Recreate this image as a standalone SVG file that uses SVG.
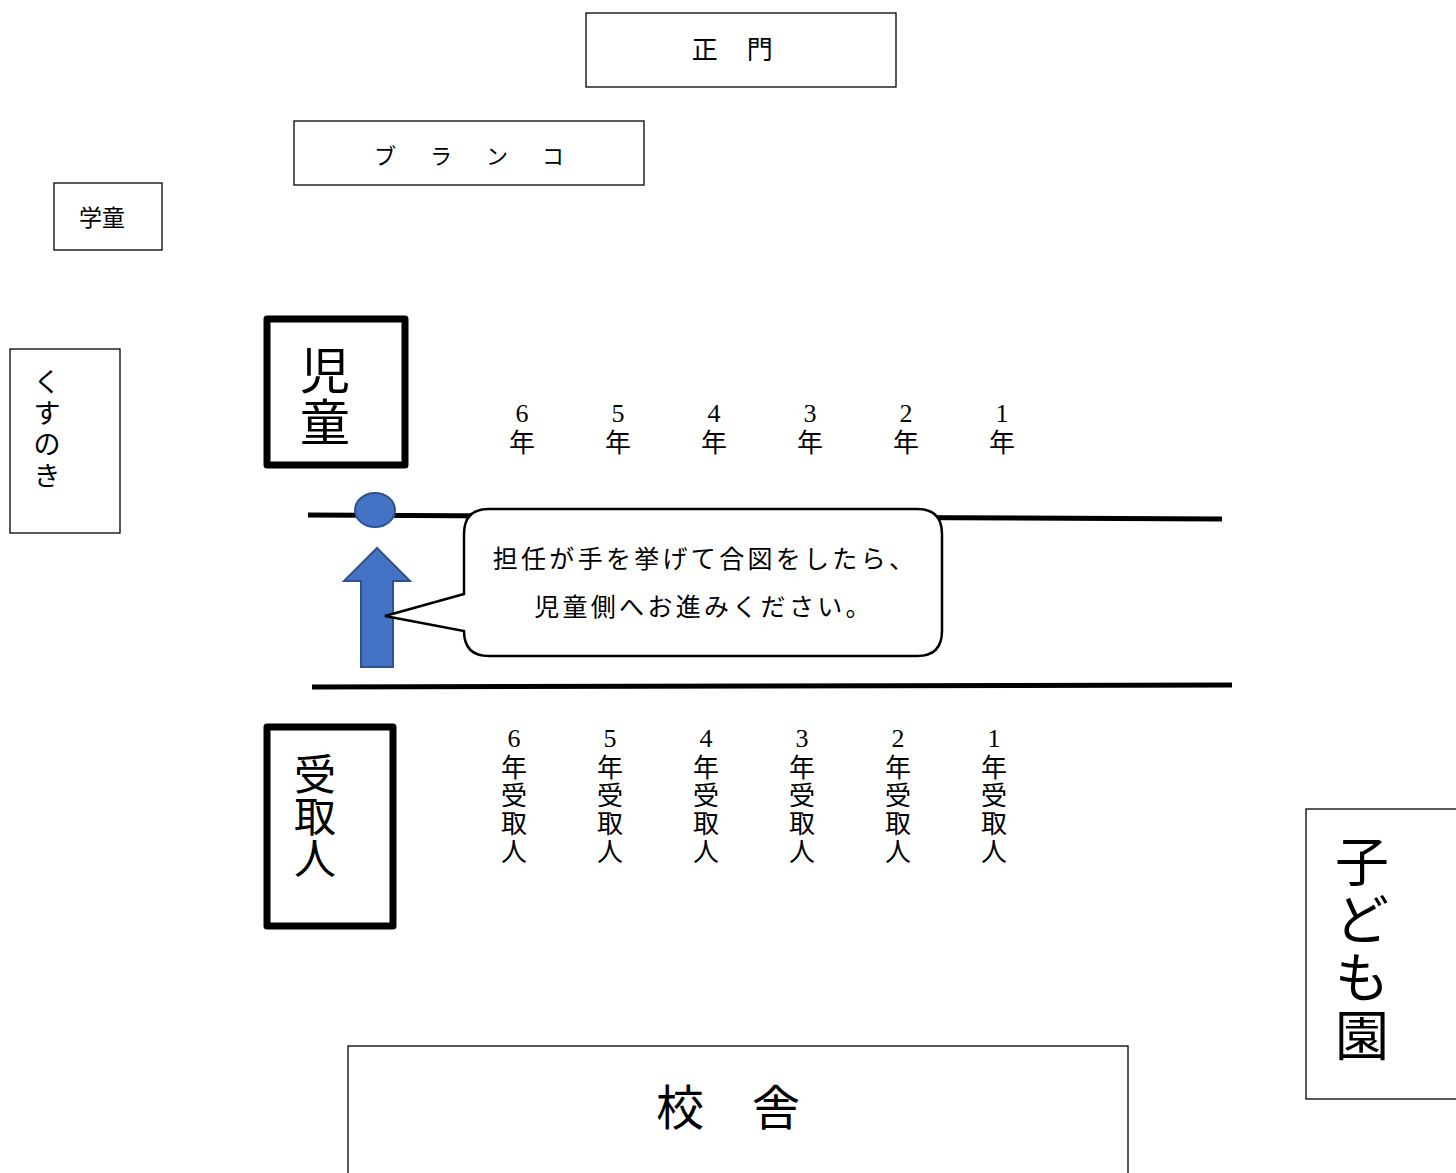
<svg xmlns="http://www.w3.org/2000/svg" width="1456" height="1173" viewBox="0 0 1456 1173">
<style>
.box{fill:#fff;stroke:#000;stroke-width:1.3}
.thick{fill:#fff;stroke:#000;stroke-width:7;stroke-linejoin:round}
.road{stroke:#000;stroke-width:5;fill:none}
text{font-family:"Noto Sans CJK JP","Noto Sans",sans-serif;fill:#000;text-anchor:middle;dominant-baseline:central}
.num{font-family:"Liberation Serif","Noto Sans CJK JP",serif}
</style>
<rect width="1456" height="1173" fill="#fff"/>
<g id="seimon">
<rect class="box" x="586" y="13" width="310" height="74"/>
<text x="733" y="47" font-size="26" letter-spacing="1.5">正　門</text>
</g>
<g id="buranko">
<rect class="box" x="294" y="121" width="350" height="64"/>
<text x="472" y="154" font-size="22" letter-spacing="6">ブ　ラ　ン　コ</text>
</g>
<g id="gakudo">
<rect class="box" x="54" y="183" width="108" height="67"/>
<text x="102" y="216" font-size="23">学童</text>
</g>
<g id="kusunoki" font-size="27">
<rect class="box" x="10" y="349" width="110" height="184"/>
<text x="47" y="380">く</text><text x="47" y="411">す</text><text x="47" y="442">の</text><text x="47" y="474">き</text>
</g>
<g id="jido" font-size="50">
<rect class="thick" x="267" y="319" width="138" height="146"/>
<text x="325" y="367">児</text><text x="325" y="419">童</text>
</g>
<g id="grades-top" font-size="26">
<text class="num" x="522" y="413">6</text><text x="522" y="440">年</text>
<text class="num" x="618" y="413">5</text><text x="618" y="440">年</text>
<text class="num" x="714" y="413">4</text><text x="714" y="440">年</text>
<text class="num" x="810" y="413">3</text><text x="810" y="440">年</text>
<text class="num" x="906" y="413">2</text><text x="906" y="440">年</text>
<text class="num" x="1002" y="413">1</text><text x="1002" y="440">年</text>
</g>
<g id="connectors">
<line class="road" x1="308" y1="515" x2="1222" y2="519"/>
<line class="road" x1="312" y1="687" x2="1232" y2="685"/>
</g>
<g id="marker-dot">
<ellipse cx="375" cy="510" rx="20" ry="17" fill="#4472C4" stroke="#2F528F" stroke-width="2"/>
</g>
<g id="arrow">
<path d="M377 548 L410 581 L393 581 L393 667 L361 667 L361 581 L344 581 Z" fill="#4472C4" stroke="#2F528F" stroke-width="2" stroke-linejoin="miter"/>
</g>
<g id="callout">
<path d="M489 509 L917 509 Q942 509 942 534 L942 631 Q942 656 917 656 L489 656 Q464 656 464 631 L385 616 L464 594 L464 534 Q464 509 489 509 Z" fill="#fff" stroke="#000" stroke-width="2.5" stroke-linejoin="miter"/>
<text x="705" y="557" font-size="25" letter-spacing="3.3">担任が手を挙げて合図をしたら、</text>
<text x="704" y="605" font-size="25" letter-spacing="3.3">児童側へお進みください。</text>
</g>
<g id="uketorinin" font-size="42">
<rect class="thick" x="267" y="727" width="126" height="199"/>
<text x="315" y="771">受</text><text x="315" y="813">取</text><text x="315" y="855">人</text>
</g>
<g id="grades-bottom" font-size="26">
<g><text class="num" x="514" y="738">6</text><text x="514" y="765">年</text><text x="514" y="793">受</text><text x="514" y="821">取</text><text x="514" y="849">人</text></g>
<g><text class="num" x="610" y="738">5</text><text x="610" y="765">年</text><text x="610" y="793">受</text><text x="610" y="821">取</text><text x="610" y="849">人</text></g>
<g><text class="num" x="706" y="738">4</text><text x="706" y="765">年</text><text x="706" y="793">受</text><text x="706" y="821">取</text><text x="706" y="849">人</text></g>
<g><text class="num" x="802" y="738">3</text><text x="802" y="765">年</text><text x="802" y="793">受</text><text x="802" y="821">取</text><text x="802" y="849">人</text></g>
<g><text class="num" x="898" y="738">2</text><text x="898" y="765">年</text><text x="898" y="793">受</text><text x="898" y="821">取</text><text x="898" y="849">人</text></g>
<g><text class="num" x="994" y="738">1</text><text x="994" y="765">年</text><text x="994" y="793">受</text><text x="994" y="821">取</text><text x="994" y="849">人</text></g>
</g>
<g id="kodomoen" font-size="54">
<rect class="box" x="1306" y="809" width="160" height="290"/>
<text x="1362" y="858">子</text><text x="1362" y="916">ど</text><text x="1362" y="974">も</text><text x="1362" y="1032">園</text>
</g>
<g id="kosha">
<rect class="box" x="348" y="1046" width="780" height="140"/>
<text x="728" y="1104" font-size="48">校　舎</text>
</g>
</svg>
